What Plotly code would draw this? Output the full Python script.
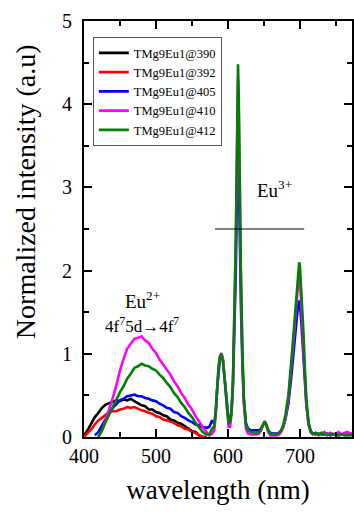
import plotly.graph_objects as go

# Wavelength grids (nm): broad Eu2+ band, then the sharp Eu3+ line region
wl_band = [400, 405, 410, 415, 420, 425, 430, 435, 440, 445, 450, 455, 460, 465,
           470, 475, 480, 485, 490, 495, 500, 505, 510, 515, 520, 525, 530, 535,
           540, 545, 550, 555, 560, 565, 570]
wl_line = [574, 578, 581, 583, 585, 587, 589, 591, 593, 595,
           597, 599, 601, 603, 605, 607, 609, 611, 612, 613,
           614, 615, 616, 617, 618, 620, 622, 625, 628, 632,
           636, 640, 643, 646, 649, 651, 653, 656, 659, 663,
           667, 671, 674, 677, 680, 684, 688, 692, 695, 697,
           699, 700, 702, 705, 707, 709, 712, 715, 718, 722,
           726, 730, 734, 738, 742, 746, 750, 754, 758, 762,
           766, 770, 775]

# Excitation at 390 nm and 392 nm (band only)
int_390 = [0.02, 0.08, 0.16, 0.24, 0.29, 0.35, 0.39, 0.41, 0.43, 0.44, 0.43, 0.45,
           0.44, 0.46, 0.43, 0.41, 0.38, 0.37, 0.33, 0.33, 0.30, 0.29, 0.26, 0.25,
           0.21, 0.20, 0.17, 0.16, 0.13, 0.10, 0.07, 0.06, 0.02, 0.00, 0.00]
int_392 = [0.00, 0.04, 0.09, 0.15, 0.20, 0.23, 0.27, 0.30, 0.31, 0.31, 0.33, 0.34,
           0.36, 0.35, 0.36, 0.34, 0.32, 0.31, 0.29, 0.28, 0.25, 0.24, 0.21, 0.20,
           0.18, 0.17, 0.14, 0.13, 0.10, 0.09, 0.06, 0.05, 0.02, 0.00, 0.00]

# Excitation at 405, 410 and 412 nm (band + Eu3+ lines)
int_405 = [None, None, None, 0.02, 0.06, 0.14, 0.22, 0.29, 0.35, 0.40, 0.44, 0.46,
           0.49, 0.50, 0.51, 0.49, 0.49, 0.47, 0.46, 0.44, 0.43, 0.40, 0.38, 0.35,
           0.34, 0.30, 0.29, 0.25, 0.23, 0.20, 0.18, 0.15, 0.14, 0.12, 0.11,
           0.12, 0.20, 0.16, 0.30, 0.58, 0.83, 0.95, 0.98, 0.92, 0.75,
           0.55, 0.33, 0.20, 0.20, 0.30, 0.62, 1.20, 2.00, 2.60, 3.15,
           3.40, 3.20, 2.60, 2.10, 1.60, 0.90, 0.45, 0.17, 0.10, 0.08,
           0.08, 0.08, 0.08, 0.10, 0.15, 0.18, 0.15, 0.08, 0.05, 0.04,
           0.04, 0.05, 0.08, 0.13, 0.22, 0.40, 0.72, 1.08, 1.38, 1.55,
           1.64, 1.60, 1.38, 1.00, 0.66, 0.38, 0.16, 0.07, 0.04, 0.03,
           0.04, 0.03, 0.03, 0.04, 0.02, 0.03, 0.03, 0.02, 0.03, 0.03,
           0.02, 0.03, 0.02]
int_410 = [None, None, None, None, 0.00, 0.08, 0.20, 0.33, 0.47, 0.62, 0.80, 0.94,
           1.06, 1.12, 1.18, 1.19, 1.21, 1.16, 1.13, 1.06, 1.01, 0.93, 0.87, 0.80,
           0.75, 0.67, 0.61, 0.53, 0.47, 0.39, 0.33, 0.25, 0.18, 0.12, 0.06,
           0.02, 0.04, 0.08, 0.26, 0.56, 0.84, 0.97, 1.01, 0.94, 0.74,
           0.52, 0.28, 0.12, 0.12, 0.28, 0.66, 1.35, 2.30, 3.00, 3.80,
           4.30, 3.95, 3.15, 2.50, 1.90, 1.00, 0.42, 0.10, 0.04, 0.03,
           0.03, 0.03, 0.04, 0.08, 0.15, 0.19, 0.15, 0.06, 0.02, 0.02,
           0.02, 0.03, 0.06, 0.12, 0.23, 0.45, 0.82, 1.25, 1.60, 1.82,
           1.95, 1.92, 1.62, 1.15, 0.72, 0.40, 0.15, 0.05, 0.03, 0.05,
           0.02, 0.04, 0.06, 0.02, 0.05, 0.03, 0.04, 0.06, 0.03, 0.05,
           0.06, 0.04, 0.05]
int_412 = [None, None, None, None, 0.00, 0.08, 0.18, 0.27, 0.37, 0.46, 0.54, 0.61,
           0.70, 0.76, 0.83, 0.85, 0.88, 0.86, 0.85, 0.82, 0.80, 0.75, 0.71, 0.65,
           0.60, 0.53, 0.48, 0.41, 0.36, 0.29, 0.24, 0.17, 0.12, 0.06, 0.03,
           0.03, 0.10, 0.13, 0.30, 0.60, 0.85, 0.97, 1.00, 0.93, 0.76,
           0.55, 0.32, 0.17, 0.18, 0.32, 0.70, 1.40, 2.40, 3.10, 3.90,
           4.48, 4.10, 3.30, 2.60, 2.00, 1.10, 0.50, 0.15, 0.08, 0.06,
           0.05, 0.05, 0.06, 0.09, 0.15, 0.19, 0.16, 0.08, 0.04, 0.03,
           0.03, 0.05, 0.08, 0.15, 0.27, 0.50, 0.90, 1.35, 1.72, 1.96,
           2.10, 2.06, 1.75, 1.25, 0.80, 0.45, 0.18, 0.07, 0.04, 0.05,
           0.03, 0.05, 0.03, 0.04, 0.03, 0.04, 0.02, 0.03, 0.03, 0.02,
           0.03, 0.02, 0.03]

wl_full = wl_band + wl_line

series = [
    ("TMg9Eu1@390", wl_band, int_390, "#000000"),
    ("TMg9Eu1@392", wl_band, int_392, "#ff0000"),
    ("TMg9Eu1@405", wl_full, int_405, "#0000ff"),
    ("TMg9Eu1@410", wl_full, int_410, "#ff00ff"),
    ("TMg9Eu1@412", wl_full, int_412, "#008000"),
]

FONT = "Liberation Serif"

fig = go.Figure()
for name, x, y, color in series:
    fig.add_trace(go.Scatter(x=x, y=y, mode="lines", name=name,
                             line=dict(color=color, width=2.6),
                             connectgaps=False))

# Horizontal marker line under the Eu3+ label
fig.add_shape(type="line", x0=582, x1=706, y0=2.5, y1=2.5, xref="x", yref="y",
              line=dict(color="black", width=1))

fig.add_annotation(x=665, y=2.98, text="Eu<sup>3+</sup>", showarrow=False,
                   font=dict(family=FONT, size=19, color="black"))
fig.add_annotation(x=481, y=1.65, text="Eu<sup>2+</sup>", showarrow=False,
                   font=dict(family=FONT, size=19, color="black"))
fig.add_annotation(x=480, y=1.35, text="4f<sup>7</sup>5d\u21924f<sup>7</sup>",
                   showarrow=False, font=dict(family=FONT, size=17, color="black"))

# Y-axis title, set slightly above the plot's vertical centre
fig.add_annotation(x=-0.218, y=0.59, xref="paper", yref="paper",
                   text="Normalized intensity (a.u)", textangle=-90,
                   showarrow=False, xanchor="center", yanchor="middle",
                   font=dict(family=FONT, size=28, color="black"))

axis_common = dict(
    showline=True, linecolor="black", linewidth=2,
    ticks="inside", ticklen=8, tickwidth=2, tickcolor="black",
    mirror="allticks", showgrid=False, zeroline=False,
    tickfont=dict(family=FONT, size=20, color="black"),
)

fig.update_xaxes(range=[400, 772.4], dtick=100, tick0=400,
                 minor=dict(dtick=50, ticklen=5, tickwidth=2, ticks="inside",
                            tickcolor="black", showgrid=False),
                 title=dict(text="wavelength (nm)", standoff=14,
                            font=dict(family=FONT, size=27, color="black")),
                 **axis_common)
fig.update_yaxes(range=[0, 5], dtick=1, tick0=0, ticklabelstandoff=6,
                 minor=dict(dtick=0.5, ticklen=5, tickwidth=2, ticks="inside",
                            tickcolor="black", showgrid=False),
                 **axis_common)

fig.update_layout(
    width=354, height=514,
    margin=dict(l=84, r=0, t=21, b=77),
    paper_bgcolor="white", plot_bgcolor="white",
    showlegend=True,
    legend=dict(x=0.033, y=0.961, xanchor="left", yanchor="top",
                bgcolor="white", bordercolor="#555555", borderwidth=1,
                font=dict(family=FONT, size=12.5, color="black"),
                tracegroupgap=0, itemwidth=30),
)

fig.write_html("out.html")
